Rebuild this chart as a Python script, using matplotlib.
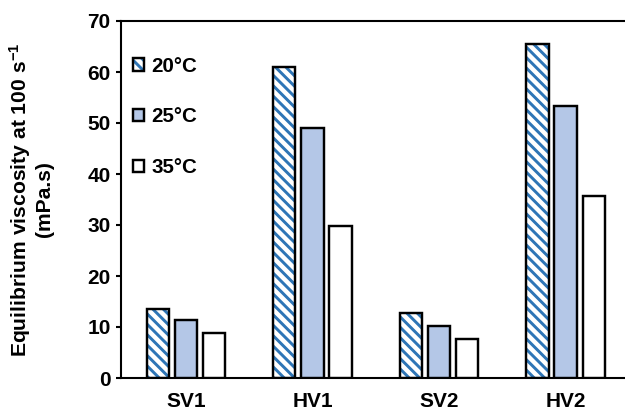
import matplotlib
matplotlib.use("Agg")
import matplotlib.pyplot as plt
import numpy as np
from matplotlib.legend_handler import HandlerTuple

categories = ["SV1", "HV1", "SV2", "HV2"]
temps = ["20°C", "25°C", "35°C"]
v20 = [13.6, 60.9, 12.8, 65.4]
v25 = [11.4, 49.0, 10.2, 53.4]
v35 = [8.8, 29.9, 7.7, 35.6]
yticks = [0, 10, 20, 30, 40, 50, 60, 70]

plt.rcParams['font.family'] = ['Liberation Sans', 'DejaVu Sans']
plt.rcParams['font.weight'] = 'bold'
plt.rcParams['mathtext.fontset'] = 'custom'
plt.rcParams['mathtext.rm'] = 'Liberation Sans:bold'
plt.rcParams['mathtext.bf'] = 'Liberation Sans:bold'
plt.rcParams['mathtext.it'] = 'Liberation Sans:bold'
plt.rcParams['hatch.linewidth'] = 1.7

DPI = 125
fig = plt.figure(figsize=(625 / DPI, 414 / DPI), dpi=DPI)
ax = fig.add_axes([121 / 625, 36 / 414, 504 / 625, 357 / 414])

x = np.arange(len(categories))
w = 0.175
off = 0.222
blue = '#2E75B6'
light = '#B4C7E7'
lw = 1.4

h20 = ax.bar(x - off, v20, w, color='white', edgecolor=blue, hatch='\\\\\\\\', linewidth=0, zorder=2)
o20 = ax.bar(x - off, v20, w, fill=False, edgecolor='black', linewidth=lw, zorder=3)
b25 = ax.bar(x, v25, w, color=light, edgecolor='black', linewidth=lw, zorder=3)
b35 = ax.bar(x + off, v35, w, color='white', edgecolor='black', linewidth=lw, zorder=3)

ax.set_xlim(-0.513, 3.47)
ax.set_ylim(0, 70)
ax.set_yticks(yticks)
ax.set_xticks(x)
ax.set_xticklabels(categories)
ax.tick_params(axis='x', length=0, pad=8, labelsize=12)
ax.tick_params(axis='y', length=3, width=1.2, pad=3, labelsize=12, direction='out')
for s in ['left', 'bottom', 'top']:
    ax.spines[s].set_linewidth(1.2)
ax.spines['right'].set_visible(False)

ax.set_ylabel("Equilibrium viscosity at 100 s$^{\\mathbf{-1}}$\n(mPa.s)", fontsize=12.2,
              fontweight='bold', labelpad=19, linespacing=1.15)

leg = ax.legend([(h20[0], o20[0]), b25[0], b35[0]], temps,
                handler_map={tuple: HandlerTuple(ndivide=1)},
                loc='upper left', bbox_to_anchor=(0.024, 0.90), borderaxespad=0,
                borderpad=0, frameon=False, fontsize=11.8, labelspacing=1.55,
                handlelength=0.55, handleheight=0.55, handletextpad=0.35)

fig.savefig("out.png", dpi=DPI)
